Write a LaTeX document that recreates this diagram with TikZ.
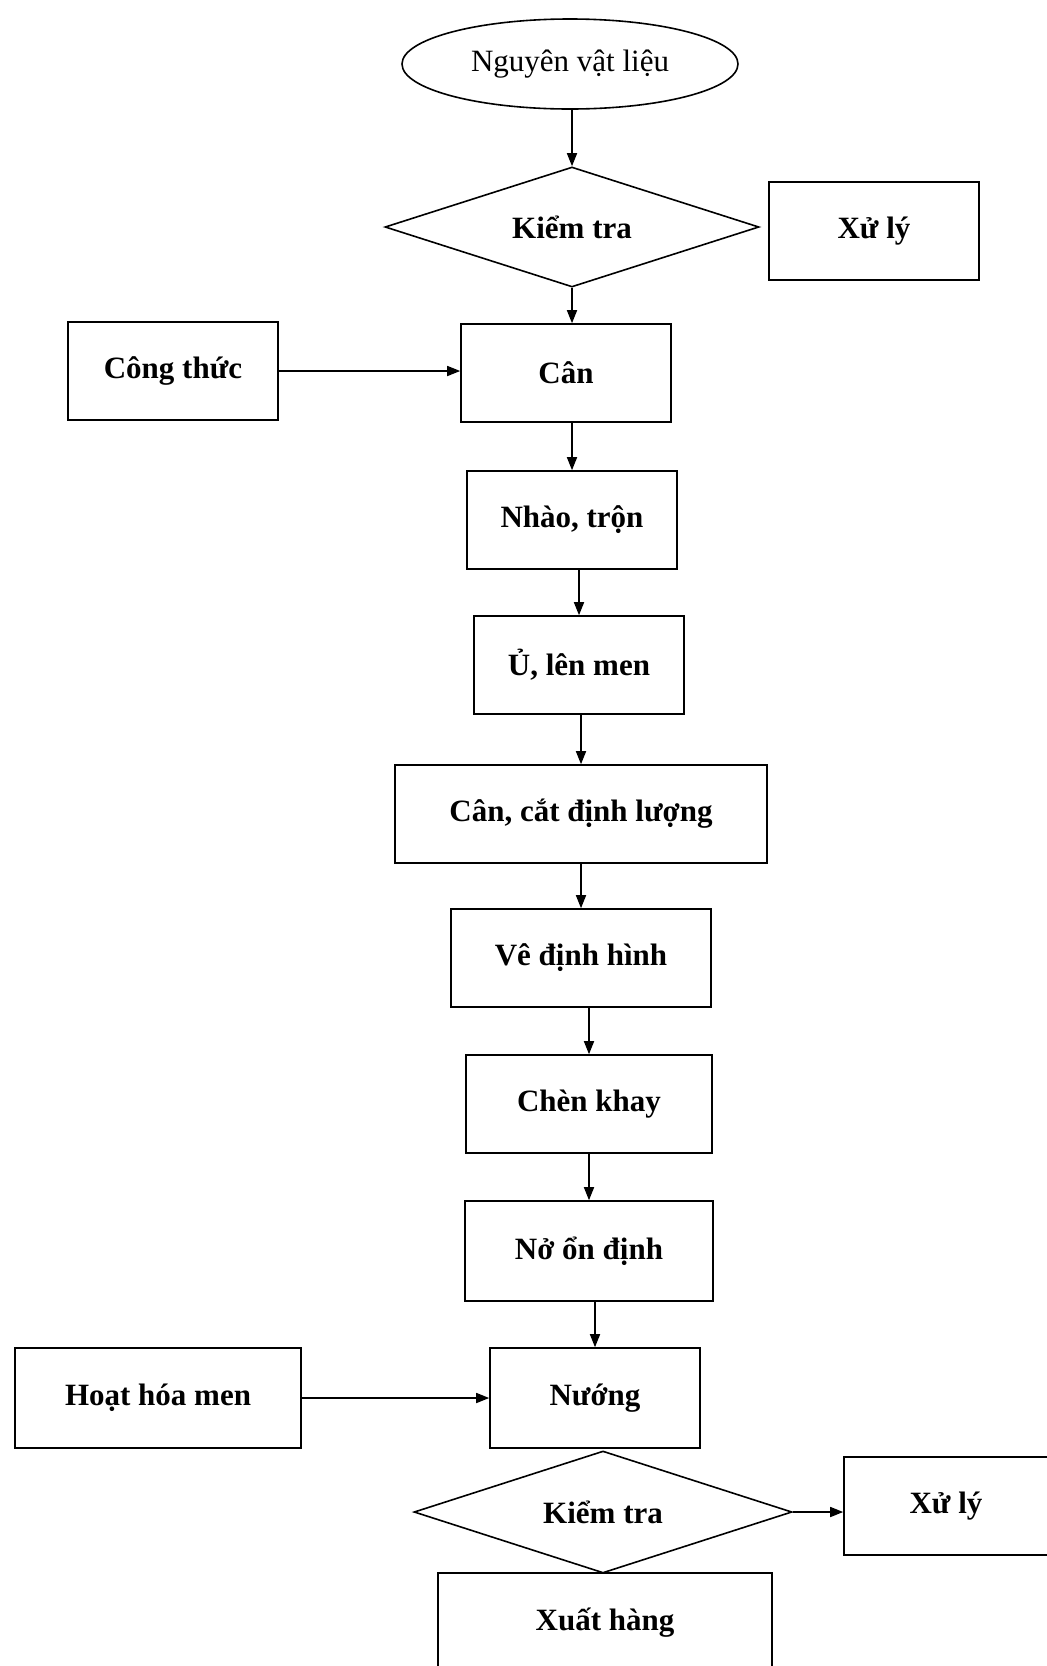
\documentclass[tikz,border=0pt]{standalone}
\usepackage{fontspec}
\setmainfont{Liberation Serif}
\usetikzlibrary{arrows,arrows.meta,shapes.geometric,calc}
\tikzstyle{startstop} = [ellipse, draw=black, line width=0.8pt, minimum width=168pt, minimum height=45pt, inner sep=0pt, font=\fontsize{15.5}{18}\selectfont]
\tikzstyle{process} = [rectangle, draw=black, line width=0.8pt, minimum width=105pt, minimum height=49pt, inner sep=0pt, text centered, font=\fontsize{15.5}{18}\selectfont\bfseries]
\tikzstyle{decision} = [diamond, aspect=3.1, draw=black, line width=0.8pt, inner sep=0pt, text centered, font=\fontsize{15.5}{18}\selectfont\bfseries]
\tikzstyle{arrow} = [line width=0.8pt,-{Triangle[length=6.5pt,width=5pt]}]

\begin{document}
\begin{tikzpicture}[x=0.5pt,y=-0.5pt]
\useasboundingbox (0,0) rectangle (1046,1666);
\node (nvl) at (570,64) [startstop] {Nguyên vật liệu};
\node (kt1) at (572,227) [decision, minimum width=187pt, minimum height=60pt] {Kiểm tra};
\node (xl1) at (874,231) [process] {Xử lý};
\node (ct) at (173,371) [process] {Công thức};
\node (can) at (566,373) [process] {Cân};
\node (nhao) at (572,520) [process] {Nhào, trộn};
\node (u) at (579,665) [process] {Ủ, lên men};
\node (cancat) at (581,814) [process, minimum width=186pt] {Cân, cắt định lượng};
\node (ve) at (581,958) [process, minimum width=130pt] {Vê định hình};
\node (chen) at (589,1104) [process, minimum width=123pt] {Chèn khay};
\node (no) at (589,1251) [process, minimum width=124pt, minimum height=50pt] {Nở ổn định};
\node (hh) at (158,1398) [process, minimum width=143pt, minimum height=50pt] {Hoạt hóa men};
\node (nuong) at (595,1398) [process, minimum height=50pt] {Nướng};
\node (kt2) at (603,1512) [decision, minimum width=189pt, minimum height=61pt] {Kiểm tra};
\node (xl2) at (946,1506) [process, minimum width=102pt] {Xử lý};
\node (xh) at (605,1623) [process, minimum width=167pt, minimum height=50pt] {Xuất hàng};
%\draw (kt1)--(xl1);
\draw[arrow] (nvl.south -| kt1.north) -- (kt1.north);
\draw[arrow] (kt1.south) -- (kt1.south |- can.north);
\draw[arrow] (ct) -- (ct -| can.west);
\draw[arrow] (can.south -| nhao.north) -- (nhao.north);
\draw[arrow] (nhao.south -| u.north) -- (u.north);
\draw[arrow] (u.south -| cancat.north) -- (cancat.north);
\draw[arrow] (cancat.south -| ve.north) -- (ve.north);
\draw[arrow] (ve.south -| chen.north) -- (chen.north);
\draw[arrow] (chen.south -| no.north) -- (no.north);
\draw[arrow] (no.south -| nuong.north) -- (nuong.north);
\draw[arrow] (hh) -- (hh -| nuong.west);
\draw[arrow] (kt2.east) -- (kt2.east -| xl2.west);
\end{tikzpicture}
\end{document}
